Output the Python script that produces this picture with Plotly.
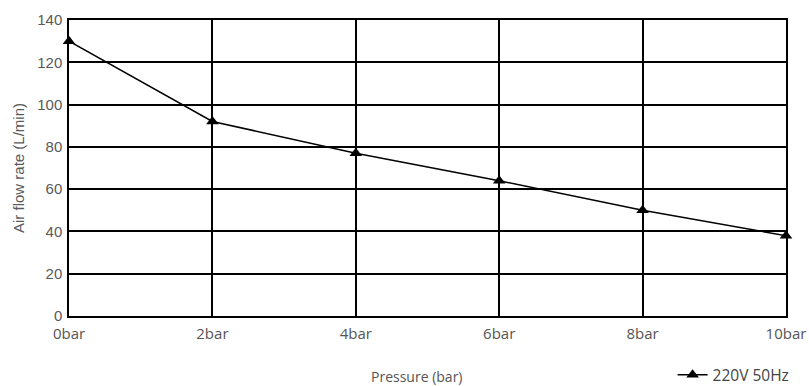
import plotly.graph_objects as go

pressure = [0, 2, 4, 6, 8, 10]
tick_labels = ["0bar", "2bar", "4bar", "6bar", "8bar", "10bar"]
flow = [130, 92, 77, 64, 50, 38]
y_ticks = [0, 20, 40, 60, 80, 100, 120, 140]
series_name = "220V 50Hz"

fig = go.Figure()
fig.add_trace(go.Scatter(
    x=pressure, y=flow, name=series_name, mode="lines+markers",
    line=dict(color="black", width=1.5),
    marker=dict(symbol="triangle-up", size=11, color="black"),
    cliponaxis=False,
))

fig.update_layout(
    width=809, height=386,
    margin=dict(l=69, r=23, t=20, b=70, autoexpand=False),
    paper_bgcolor="white", plot_bgcolor="white",
    font=dict(family="Open Sans", color="#555555", size=13),
    showlegend=True,
    legend=dict(x=1.012, xanchor="right", y=-0.2, yanchor="middle",
                orientation="h", font=dict(size=15.5, color="#444444"),
                bgcolor="rgba(0,0,0,0)"),
    xaxis=dict(
        range=[0, 10], tickmode="array", tickvals=pressure, ticktext=tick_labels,
        showgrid=True, gridcolor="black", gridwidth=1.5,
        showline=True, linecolor="black", linewidth=1.5, mirror=True,
        zeroline=False, ticks="", automargin=False, ticklabelstandoff=3,
        tickfont=dict(size=15, color="#555555"),
    ),
    yaxis=dict(
        range=[0, 140], tickmode="array", tickvals=y_ticks,
        showgrid=True, gridcolor="black", gridwidth=1.5,
        showline=True, linecolor="black", linewidth=1.5, mirror=True,
        zeroline=False, ticks="", automargin=False, ticklabelstandoff=2,
        tickfont=dict(family="Liberation Sans", size=15, color="#595959"),
    ),
    annotations=[
        dict(text="Pressure (bar)", xref="paper", yref="paper",
             x=0.485, y=-0.205, xanchor="center", yanchor="middle",
             showarrow=False, font=dict(size=14, color="#555555")),
        dict(text="Air flow rate (L/min)", xref="paper", yref="paper",
             x=-0.0711, y=0.5, xanchor="center", yanchor="middle", textangle=-90,
             showarrow=False, font=dict(family="Liberation Sans", size=15, color="#595959")),
    ],
)

fig.write_html(
    "out.html",
    config={"displayModeBar": False},
    post_script="document.body.style.margin='0';document.body.style.overflow='hidden';",
)
